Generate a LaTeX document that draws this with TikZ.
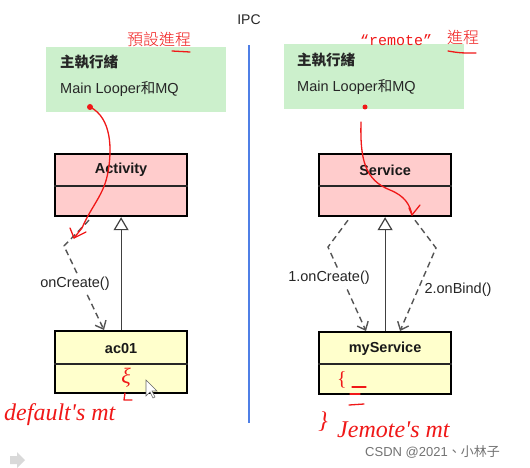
\documentclass[tikz,border=0pt]{standalone}
\usepackage{fontspec}
\setmainfont{Liberation Sans}
\newfontfamily\cjk{Noto Sans CJK TC}
\newfontfamily\cjklight{Noto Sans CJK TC Light}
\newfontfamily\hand{Liberation Serif}
\newfontfamily\monof{Liberation Mono}
\usetikzlibrary{arrows.meta,calc}
\definecolor{greenc}{HTML}{CCF0CC}
\definecolor{pinkc}{HTML}{FFCCCC}
\definecolor{yellowc}{HTML}{FFFFCC}
\definecolor{bluec}{HTML}{4F7FE6}
\definecolor{redc}{HTML}{F01818}
\definecolor{dashc}{HTML}{555555}
\definecolor{txtc}{HTML}{262626}
\tikzset{
  greenbox/.style={fill=greenc, draw=none, anchor=north west, minimum width=180pt, minimum height=65pt, inner sep=0pt},
  clsbox/.style={draw=black, line width=2.2pt, anchor=north west, minimum width=132pt, minimum height=62pt, inner sep=0pt},
  divider/.style={draw=black!85, line width=1.1pt},
  clsname/.style={font=\fontsize{14.5}{16}\selectfont\bfseries, text=black!90, inner sep=0pt},
  lbl/.style={font=\fontsize{14.5}{16}\selectfont, text=txtc, inner sep=0pt},
  boxtxt/.style={font=\fontsize{14.5}{16}\selectfont, text=txtc, inner sep=0pt, anchor=west},
  inherit/.style={draw=black!75, line width=1.2pt, -{Triangle[open,length=13pt,width=15pt,line width=1.2pt]}},
  depend/.style={draw=dashc, line width=1.4pt, dash pattern=on 6pt off 4pt, -{Straight Barb[length=7pt,width=12pt,line width=1.4pt]}},
  ink/.style={draw=redc, line width=1.3pt, line cap=round, line join=round},
  inktxt/.style={text=redc, inner sep=0pt},
}
\begin{document}
\begin{tikzpicture}[x=1pt,y=-1pt]
\useasboundingbox (0,0) rectangle (530,468);
\fill[white] (0,0) rectangle (530,468);

% IPC divider
\node[font=\fontsize{14}{16}\selectfont, text=txtc, inner sep=0pt] (ipc) at (249,20) {IPC};
\coordinate (ipcend) at (249,423);
\draw[bluec, line width=2.2pt] ($(ipc.south)+(0,20)$) -- (ipcend);

% ---------- left side ----------
\node[greenbox] (gl) at (46,47) {};
\node[boxtxt, font=\fontsize{14.5}{16}\selectfont\cjk\bfseries] (gl1) at (60,62) {主執行緒};
\node[boxtxt] (gl2) at (60,89) {Main Looper{\cjk 和}MQ};

\node[clsbox, fill=pinkc] (act) at (54,153) {};
\draw[divider] ($(act.north west)+(0,33)$) -- ($(act.north east)+(0,33)$);
\node[clsname] (actn) at ($(act.north)+(0,17)$) {Activity};

\node[clsbox, fill=yellowc] (ac) at (54,330) {};
\draw[divider] ($(ac.north west)+(0,34)$) -- ($(ac.north east)+(0,34)$);
\node[clsname] (acn) at ($(ac.north)+(0,19)$) {ac01};

\draw[inherit] (ac.north) -- (act.south);
\coordinate (lb) at (64,246);
\draw[depend] ($(act.south west)+(35,3)$) -- (lb) -- ($(ac.north west)+(50,0)$);
\node[lbl, fill=white, inner sep=1pt] (lc) at (75,284) {onCreate()};

% ---------- right side ----------
\node[greenbox] (gr) at (284,44) {};
\node[boxtxt, font=\fontsize{14.5}{16}\selectfont\cjk\bfseries] (gr1) at (297,60) {主執行緒};
\node[boxtxt] (gr2) at (297,87) {Main Looper{\cjk 和}MQ};

\node[clsbox, fill=pinkc] (svc) at (318,153) {};
\draw[divider] ($(svc.north west)+(0,33)$) -- ($(svc.north east)+(0,33)$);
\node[clsname] (svcn) at ($(svc.north)+(0,17)$) {Service};

\node[clsbox, fill=yellowc] (ms) at (318,331) {};
\draw[divider] ($(ms.north west)+(0,33)$) -- ($(ms.north east)+(0,33)$);
\node[clsname] (msn) at ($(ms.north)+(0,18)$) {myService};

\draw[inherit] (ms.north) -- (svc.south);
\coordinate (rb1) at (328,247);
\coordinate (rb2) at (436,248);
\draw[depend] ($(svc.south west)+(30,3)$) -- (rb1) -- ($(ms.north west)+(48,0)$);
\draw[depend] ($(svc.south west)+(97,3)$) -- (rb2) -- ($(ms.north west)+(82,0)$);
\node[lbl, fill=white, inner sep=1pt] (l1) at (329,278) {1.onCreate()};
\node[lbl, fill=white, inner sep=1pt] (l2) at (458,290) {2.onBind()};

% ---------- red annotations ----------
\node[inktxt, font=\fontsize{16}{18}\selectfont\cjklight] (t1) at (159,39) {預設進程};
\draw[ink] (172,51) -- (190,52);
\node[inktxt, font=\fontsize{15}{18}\selectfont\monof, anchor=west] (t2) at (360,40) {“remote”};
\node[inktxt, font=\fontsize{16}{18}\selectfont\cjklight, anchor=west] (t3) at (447,37) {進程};
\draw[ink] (448,51) .. controls (460,53) .. (476,53);

% left ink curve
\fill[redc] (90,107) circle (3pt);
\coordinate (ik1) at (74,238);
\draw[ink] (90,107) .. controls (112,118) and (112,150) .. (108,172)
  .. controls (104,195) and (92,205) .. (82,228) -- (ik1);
\draw[ink] (70,228) -- (ik1) -- (86,232);

% right ink curve
\fill[redc] (365,107) circle (2.5pt);
\coordinate (ik2) at (412,215);
\draw[ink] (361,122) .. controls (360,160) and (365,180) .. (390,190)
  .. controls (405,196) and (410,205) .. (ik2);
\draw[ink] (409,208) -- (ik2) -- (420,205);

% scribbles in boxes
\node[inktxt, font=\fontsize{22}{24}\selectfont\hand\itshape] (s1) at (126,378) {ξ};
\draw[ink] (125,393) -- (124,400) -- (132,400);
\node[inktxt, font=\fontsize{20}{22}\selectfont\hand] (s2) at (342,380) {\{};
\draw[ink] (352,387) -- (366,387);
\draw[ink] (350,394) -- (360,394);
\draw[ink] (349,405) -- (364,404);
\node[inktxt, font=\fontsize{24}{26}\selectfont\hand, rotate=-10] (s3) at (324,422) {\}};

% handwritten notes
\node[inktxt, font=\fontsize{24}{26}\selectfont\hand\itshape, anchor=west] (h1) at (4,415) {default's mt};
\node[inktxt, font=\fontsize{24}{26}\selectfont\hand\itshape, anchor=west] (h2) at (337,430) {Jemote's mt};

% mouse cursor
\draw[black!60, fill=white, line width=0.6pt] (146,380) -- (146,396) -- (150,392) -- (153,398) -- (155,397) -- (152,391) -- (157,391) -- cycle;

% small icon bottom-left
\fill[black!15] (10,456) -- (17,456) -- (17,452) -- (25,460) -- (17,468) -- (17,464) -- (10,464) -- cycle;

% watermark
\node[font=\fontsize{13}{15}\selectfont, text=black!55, anchor=west, inner sep=0pt] (wm) at (365,452) {CSDN @2021{\cjk 、小林子}};
\end{tikzpicture}
\end{document}
